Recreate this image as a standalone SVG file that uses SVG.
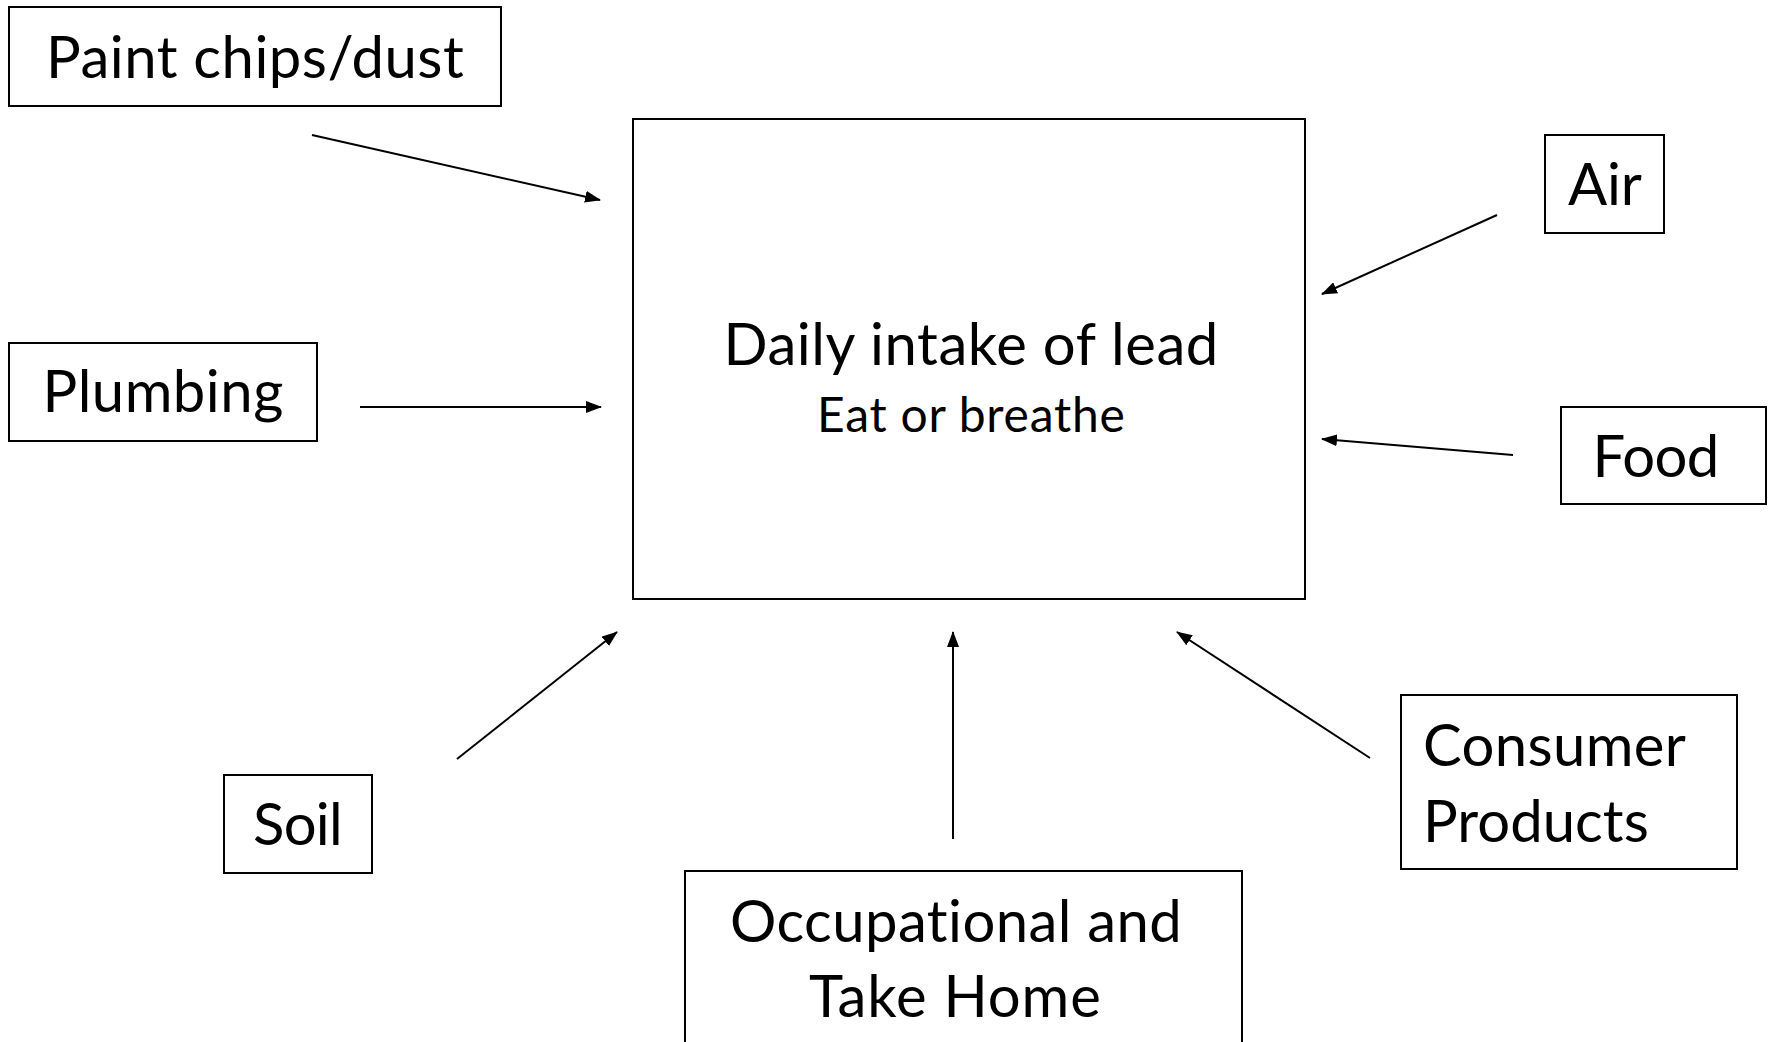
<svg xmlns="http://www.w3.org/2000/svg" width="1769" height="1042" viewBox="0 0 1769 1042">
<style>
.box{fill:#fff;stroke:#000;stroke-width:2}
.t{font-family:Lato,"Open Sans","Liberation Sans",sans-serif;font-size:58px;fill:#000;text-anchor:middle;font-variant-ligatures:none;font-feature-settings:"liga" 0,"clig" 0,"dlig" 0;letter-spacing:0.2px}
.s{font-size:48px}
.l{text-anchor:start}
.c{stroke:#000;stroke-width:2;fill:none;marker-end:url(#ah)}
</style>
<defs>
<marker id="ah" markerUnits="userSpaceOnUse" markerWidth="16" markerHeight="12" refX="15" refY="6" orient="auto">
<path d="M0,0 L16,6 L0,12 z" fill="#000"/>
</marker>
</defs>
<rect width="1769" height="1042" fill="#fff"/>
<g id="main">
<rect class="box" x="633" y="119" width="672" height="480"/>
<text class="t" x="971" y="365" textLength="495">Daily intake of lead</text>
<text class="t s" x="971" y="432" textLength="308">Eat or breathe</text>
</g>
<g id="paint">
<rect class="box" x="9" y="7" width="492" height="99"/>
<text class="t" x="255" y="78" textLength="418">Paint chips/dust</text>
</g>
<g id="plumbing">
<rect class="box" x="9" y="343" width="308" height="98"/>
<text class="t" x="163" y="412" textLength="241">Plumbing</text>
</g>
<g id="air">
<rect class="box" x="1545" y="135" width="119" height="98"/>
<text class="t" x="1605" y="205" textLength="74">Air</text>
</g>
<g id="food">
<rect class="box" x="1561" y="407" width="205" height="97"/>
<text class="t" x="1656" y="477" textLength="127">Food</text>
</g>
<g id="soil">
<rect class="box" x="224" y="775" width="148" height="98"/>
<text class="t" x="298" y="845" textLength="90">Soil</text>
</g>
<g id="occupational">
<rect class="box" x="685" y="871" width="557" height="185"/>
<text class="t" x="956" y="942" textLength="452">Occupational and</text>
<text class="t" x="955" y="1017" textLength="292">Take Home</text>
</g>
<g id="consumer">
<rect class="box" x="1401" y="695" width="336" height="174"/>
<text class="t l" x="1423" y="766" textLength="263">Consumer</text>
<text class="t l" x="1423" y="842" textLength="226">Products</text>
</g>
<g id="connectors">
<line class="c" x1="312" y1="135" x2="600" y2="200"/>
<line class="c" x1="360" y1="407" x2="601" y2="407"/>
<line class="c" x1="1497" y1="215" x2="1322" y2="294"/>
<line class="c" x1="1513" y1="455" x2="1322" y2="439"/>
<line class="c" x1="457" y1="759" x2="617" y2="632"/>
<line class="c" x1="953" y1="839" x2="953" y2="632"/>
<line class="c" x1="1370" y1="758" x2="1177" y2="632"/>
</g>
</svg>
